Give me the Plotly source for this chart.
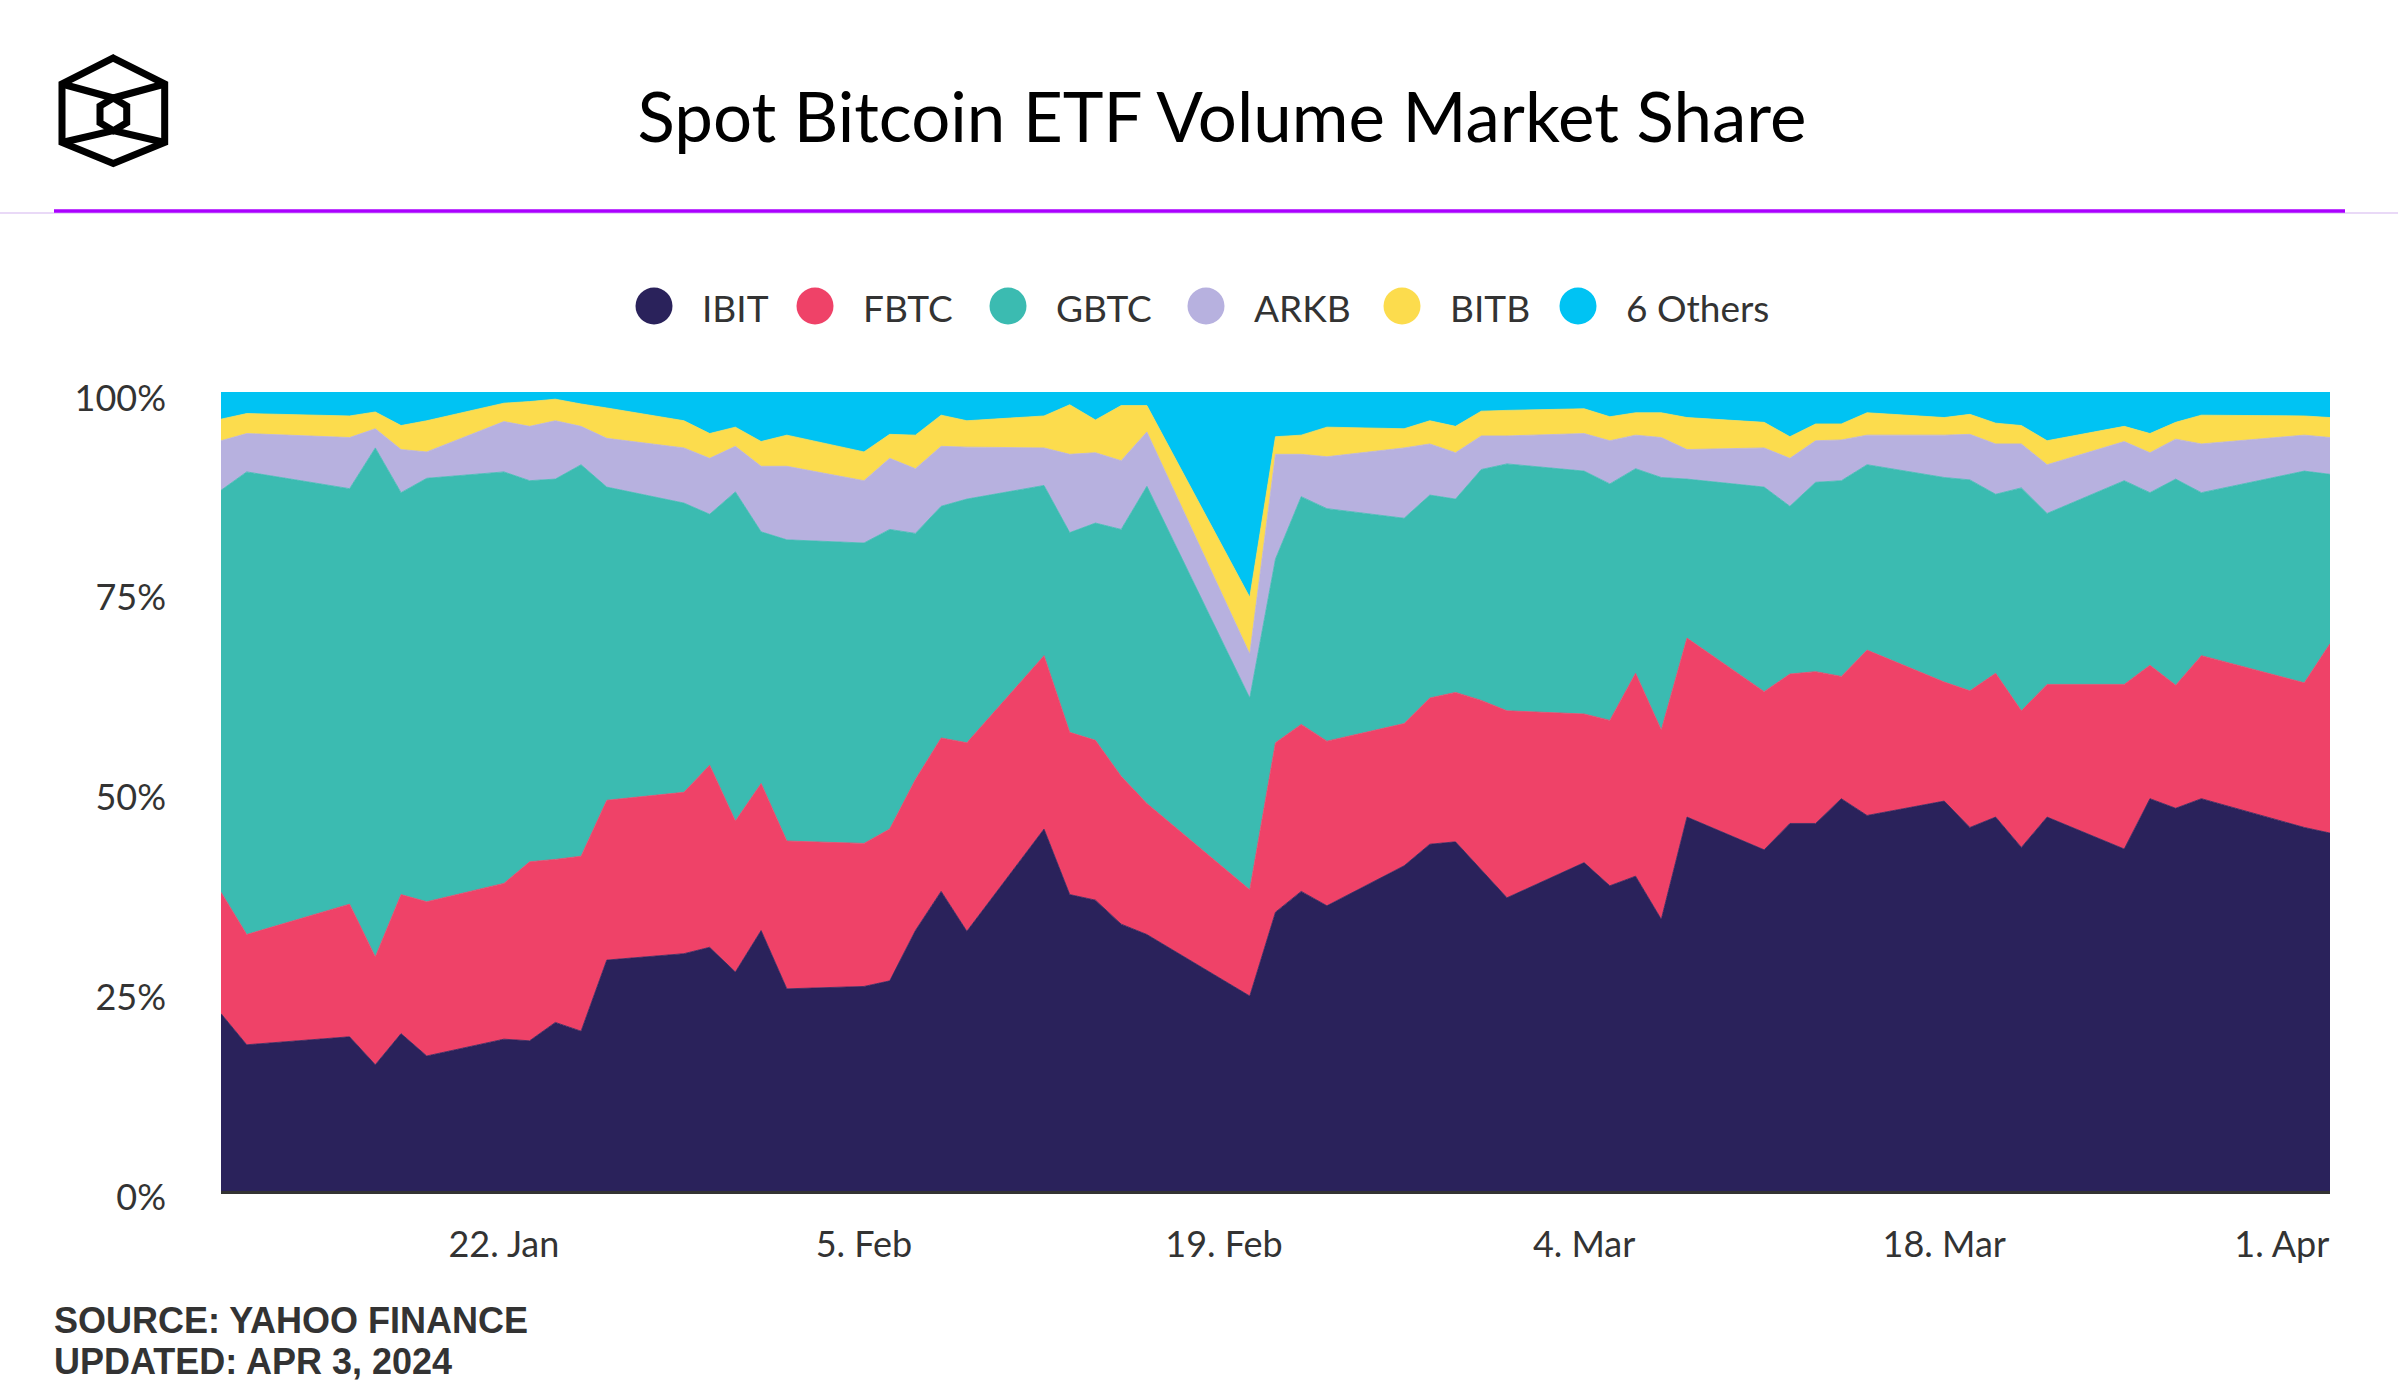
import plotly.graph_objects as go

# ---------------- data ----------------
dates = ["2024-01-11", "2024-01-12", "2024-01-16", "2024-01-17", "2024-01-18", "2024-01-19",
         "2024-01-22", "2024-01-23", "2024-01-24", "2024-01-25", "2024-01-26", "2024-01-29",
         "2024-01-30", "2024-01-31", "2024-02-01", "2024-02-02", "2024-02-05", "2024-02-06",
         "2024-02-07", "2024-02-08", "2024-02-09", "2024-02-12", "2024-02-13", "2024-02-14",
         "2024-02-15", "2024-02-16", "2024-02-20", "2024-02-21", "2024-02-22", "2024-02-23",
         "2024-02-26", "2024-02-27", "2024-02-28", "2024-02-29", "2024-03-01", "2024-03-04",
         "2024-03-05", "2024-03-06", "2024-03-07", "2024-03-08", "2024-03-11", "2024-03-12",
         "2024-03-13", "2024-03-14", "2024-03-15", "2024-03-18", "2024-03-19", "2024-03-20",
         "2024-03-21", "2024-03-22", "2024-03-25", "2024-03-26", "2024-03-27", "2024-03-28",
         "2024-04-01", "2024-04-02"]

IBIT = [22.2, 18.3, 19.3, 15.8, 19.7, 16.9, 19.0, 18.8, 21.1, 20.0, 28.9, 29.7, 30.5, 27.4,
        32.6, 25.3, 25.6, 26.3, 32.6, 37.5, 32.5, 45.3, 37.1, 36.4, 33.4, 32.1, 24.4, 34.9,
        37.5, 35.7, 40.7, 43.4, 43.7, 40.2, 36.7, 41.1, 38.2, 39.4, 34.0, 46.8, 42.7, 46.0,
        46.0, 49.1, 47.0, 48.8, 45.5, 46.8, 43.0, 46.8, 42.8, 49.1, 47.9, 49.1, 45.5, 44.8]
FBTC = [15.2, 13.8, 16.6, 13.5, 17.4, 19.3, 19.5, 22.4, 20.4, 21.9, 20.0, 20.2, 22.8, 18.9,
        18.4, 18.5, 17.9, 19.0, 18.9, 19.2, 23.6, 21.7, 20.3, 20.0, 18.5, 16.4, 13.3, 21.2,
        20.9, 20.6, 17.8, 18.3, 18.7, 21.2, 23.4, 18.6, 20.7, 25.4, 23.7, 22.4, 19.8, 18.7,
        19.0, 15.3, 20.7, 14.9, 17.1, 18.0, 17.1, 16.6, 20.6, 16.7, 15.4, 17.9, 18.1, 23.7]
GBTC = [50.3, 57.9, 52.0, 63.7, 50.3, 53.0, 51.5, 47.7, 47.6, 49.0, 39.2, 36.2, 31.4, 41.2,
        31.5, 37.7, 37.6, 37.5, 30.8, 29.0, 30.5, 21.3, 25.0, 27.2, 30.9, 39.7, 24.0, 23.0,
        28.5, 29.1, 25.7, 25.4, 24.2, 28.9, 30.9, 30.4, 29.6, 25.6, 31.6, 19.9, 25.6, 21.0,
        23.7, 24.5, 23.2, 25.6, 26.4, 22.4, 27.9, 21.4, 25.5, 21.6, 25.8, 20.4, 26.5, 21.2]
ARKB = [6.2, 4.8, 6.4, 2.4, 5.4, 3.3, 6.3, 6.8, 7.3, 4.8, 6.1, 6.9, 7.0, 5.7,
        8.2, 9.2, 7.8, 8.9, 8.1, 7.5, 6.5, 4.7, 9.8, 8.8, 8.6, 6.8, 5.5, 13.1,
        5.3, 6.5, 8.8, 6.4, 5.8, 4.2, 3.5, 4.7, 5.4, 4.2, 5.0, 3.7, 4.9, 6.0,
        5.2, 5.1, 3.7, 5.3, 5.7, 6.3, 5.5, 6.1, 4.9, 5.0, 5.0, 6.1, 4.5, 4.6]
BITB = [2.7, 2.5, 2.7, 2.1, 3.0, 3.9, 2.3, 3.1, 2.7, 2.8, 3.8, 3.4, 3.1, 2.4,
        3.1, 3.9, 3.6, 3.0, 4.2, 3.9, 3.3, 4.0, 6.2, 4.1, 6.9, 3.3, 7.1, 2.2,
        2.4, 3.7, 2.4, 2.9, 3.3, 3.1, 3.2, 3.1, 3.0, 2.8, 3.1, 4.0, 3.2, 2.7,
        2.1, 2.0, 2.8, 2.2, 2.5, 2.6, 2.3, 3.0, 1.9, 2.4, 2.1, 3.6, 2.4, 2.5]
OTHERS = [3.4, 2.7, 3.0, 2.5, 4.2, 3.6, 1.4, 1.2, 0.9, 1.5, 2.0, 3.6, 5.2, 4.4,
          6.2, 5.4, 7.5, 5.3, 5.4, 2.9, 3.6, 3.0, 1.6, 3.5, 1.7, 1.7, 25.7, 5.6,
          5.4, 4.4, 4.6, 3.6, 4.3, 2.4, 2.3, 2.1, 3.1, 2.6, 2.6, 3.2, 3.8, 5.6,
          4.0, 4.0, 2.6, 3.2, 2.8, 3.9, 4.2, 6.1, 4.3, 5.2, 3.8, 2.9, 3.0, 3.2]

series_names = ["IBIT", "FBTC", "GBTC", "ARKB", "BITB", "6 Others"]
series_values = [IBIT, FBTC, GBTC, ARKB, BITB, OTHERS]

x_tick_dates = ["2024-01-22", "2024-02-05", "2024-02-19", "2024-03-04", "2024-03-18", "2024-04-01"]
x_tick_labels = ["22. Jan", "5. Feb", "19. Feb", "4. Mar", "18. Mar", "1. Apr"]
y_tick_values = [0, 25, 50, 75, 100]
y_tick_labels = ["0%", "25%", "50%", "75%", "100%"]

title_text = "Spot Bitcoin ETF Volume Market Share"
source_text = "SOURCE: YAHOO FINANCE"
updated_text = "UPDATED: APR 3, 2024"

# ---------------- styles / layout ----------------
colors = ["#2a225b", "#ef4268", "#3bbbb1", "#b7b1df", "#fcdc4d", "#00c3f3"]
W, H = 2401, 1400
L, R, T, B = 221, 71, 392, 209
PW = W - L - R
PH = H - T - B
FONT = "Lato, Roboto, sans-serif"


def px(x):
    return (x - L) / PW


def py(y):
    return (H - B - y) / PH


fig = go.Figure()
for name, vals, col in zip(series_names, series_values, colors):
    fig.add_trace(go.Scatter(
        x=dates, y=vals, name=name, mode="lines",
        stackgroup="one", groupnorm="percent",
        line=dict(width=0.8, color=col), fillcolor=col,
        showlegend=False,
    ))

shapes = []
# header lines
shapes.append(dict(type="line", xref="paper", yref="paper", x0=px(0), x1=px(2398),
                   y0=py(213), y1=py(213), line=dict(color="#e2cdf4", width=1.5)))
shapes.append(dict(type="line", xref="paper", yref="paper", x0=px(54), x1=px(2345),
                   y0=py(211), y1=py(211), line=dict(color="#aa00ff", width=3.5)))


# logo (cube outline)
def path(points, close=False):
    s = "M " + " L ".join(f"{px(a):.5f},{py(b):.5f}" for a, b in points)
    return s + (" Z" if close else "")


logo_paths = [
    ([(113.3, 58), (164.7, 84), (164.7, 142.5), (113.3, 163.5), (62, 142.5), (62, 84)], True),
    ([(62, 84), (113.3, 98), (164.7, 84)], False),
    ([(62, 142.5), (113.3, 130.7), (164.7, 142.5)], False),
    ([(113.3, 98), (126.7, 106), (126.7, 122.7), (113.3, 130.7), (100, 122.7), (100, 106)], True),
]
for pts, cl in logo_paths:
    shapes.append(dict(type="path", xref="paper", yref="paper", path=path(pts, cl),
                       line=dict(color="#000000", width=7)))

annotations = []
# manual legend (round markers)
legend_circle_x = [654, 815, 1008, 1206, 1402, 1578]
legend_y = 306
r = 18.5
for name, col, cx in zip(series_names, colors, legend_circle_x):
    shapes.append(dict(type="circle", xref="paper", yref="paper",
                       x0=px(cx - r), x1=px(cx + r), y0=py(legend_y + r), y1=py(legend_y - r),
                       fillcolor=col, line=dict(width=0)))
    annotations.append(dict(xref="paper", yref="paper", x=px(cx + 46), y=py(legend_y + 1),
                            xanchor="left", yanchor="middle", showarrow=False, text=name,
                            font=dict(family=FONT, size=37, color="#333333")))

# footer
for txt, yy in [(source_text, 1320), (updated_text, 1361)]:
    annotations.append(dict(xref="paper", yref="paper", x=px(52), y=py(yy), xanchor="left",
                            yanchor="middle", showarrow=False, text=txt,
                            font=dict(family="Liberation Sans, Arial, sans-serif", size=36,
                                      color="#333333", weight="bold")))

# last x label is justified inside the plot area, as in the original
x_text = [t + ("\u2003\u2002" if i == len(x_tick_labels) - 1 else "")
          for i, t in enumerate(x_tick_labels)]

fig.update_layout(
    width=W, height=H, autosize=False,
    margin=dict(l=L, r=R, t=T, b=B, pad=0),
    paper_bgcolor="white", plot_bgcolor="white",
    title=dict(text=title_text, xref="container", yref="container",
               x=1222 / W, y=1 - 118 / H, xanchor="center", yanchor="middle",
               font=dict(family=FONT, size=69, color="#000000")),
    showlegend=False,
    shapes=shapes,
    annotations=annotations,
    xaxis=dict(type="date", range=[dates[0], dates[-1]], tickvals=x_tick_dates,
               ticktext=x_text, showgrid=False, zeroline=False, ticks="",
               showline=True, linecolor="#333333", linewidth=2.5,
               tickfont=dict(family=FONT, size=36, color="#333333"),
               ticklabelstandoff=20, fixedrange=True),
    yaxis=dict(range=[0, 100], tickvals=y_tick_values, ticktext=y_tick_labels,
               showgrid=True, gridcolor="#e6e6e6", zeroline=False, ticks="",
               tickfont=dict(family=FONT, size=36, color="#333333"),
               ticklabelstandoff=54, ticklabelshift=6, fixedrange=True),
)

fig.write_html("out.html", config={"displayModeBar": False},
               post_script="document.body.style.margin='0px';")
